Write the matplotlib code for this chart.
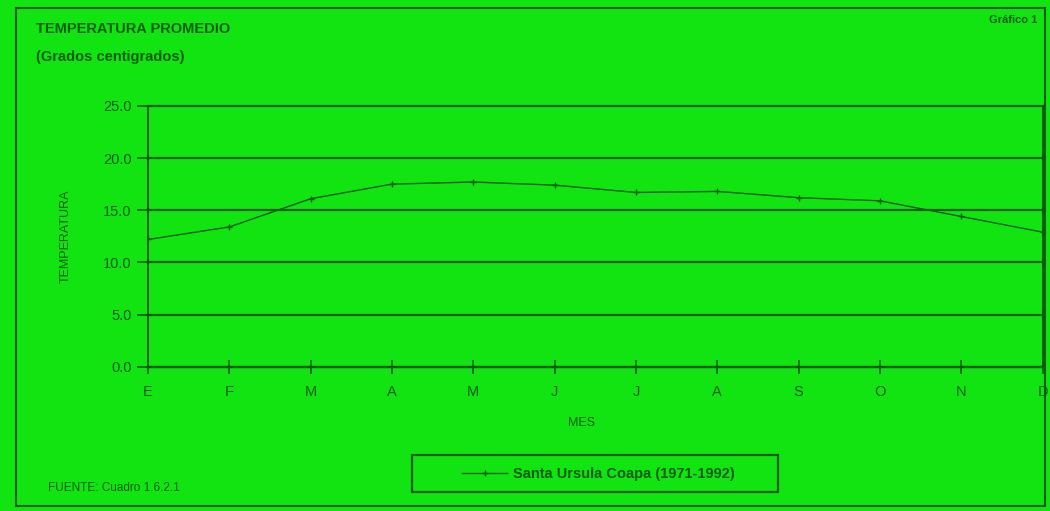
import numpy as np
import matplotlib.pyplot as plt
from matplotlib.patches import Rectangle

# Datos
meses = ["E", "F", "M", "A", "M", "J", "J", "A", "S", "O", "N", "D"]
temperatura = [12.2, 13.4, 16.1, 17.5, 17.7, 17.4, 16.7, 16.8, 16.2, 15.9, 14.4, 12.9]
serie = "Santa Ursula Coapa (1971-1992)"
y_ticks = [0, 5, 10, 15, 20, 25]

bg = "#12e412"
ink = "#0b5c0b"

plt.rcParams["font.family"] = ["Liberation Sans", "DejaVu Sans"]

fig = plt.figure(figsize=(10.5, 5.11), dpi=100)
fig.patch.set_facecolor(bg)

ax = fig.add_axes([0.141, 0.282, 0.852, 0.511])
ax.set_facecolor(bg)

x = np.arange(len(meses))
line, = ax.plot(x, temperatura, color=ink, lw=1.0, marker="+", ms=5, mew=1.0)

ax.set_xlim(0, len(meses) - 1)
ax.set_ylim(0, 25)
ax.set_yticks(y_ticks)
ax.set_yticklabels([f"{v:.1f}" for v in y_ticks], fontsize=10.5, color=ink)
ax.set_xticks(x)
ax.set_xticklabels(meses, fontsize=10.5, color=ink)
ax.tick_params(axis="y", direction="out", length=8, width=1.2, color=ink, pad=4)
ax.tick_params(axis="x", direction="inout", length=10, width=1.2, color=ink, pad=8)

for v in y_ticks:
    ax.axhline(v, color=ink, lw=1.6, zorder=1, clip_on=False)

for side in ["left", "right"]:
    ax.spines[side].set_color(ink)
    ax.spines[side].set_linewidth(1.4)
ax.spines["top"].set_visible(False)
ax.spines["bottom"].set_color(ink)
ax.spines["bottom"].set_linewidth(1.6)

ax.set_ylabel("TEMPERATURA", fontsize=9, color=ink, labelpad=22)
ax.set_xlabel("MES", fontsize=9, color=ink)
ax.xaxis.set_label_coords(0.485, -0.19)

fig.text(0.034, 0.935, "TEMPERATURA PROMEDIO", fontsize=10.5, fontweight="bold", color=ink)
fig.text(0.034, 0.88, "(Grados centigrados)", fontsize=10.5, fontweight="bold", color=ink)
fig.text(0.988, 0.955, "Gráfico 1", fontsize=8, fontweight="bold", color=ink, ha="right")
fig.text(0.046, 0.04, "FUENTE: Cuadro 1.6.2.1", fontsize=8.5, color=ink)

# leyenda sin marco; el recuadro va aparte porque es mas ancho que el texto
leg = fig.legend([line], [serie], loc="center", bbox_to_anchor=(0.570, 0.073),
                 fontsize=10.5, frameon=False, handlelength=3.1,
                 handletextpad=0.4, borderpad=0.3)
for t in leg.get_texts():
    t.set_color(ink)
    t.set_fontweight("bold")
fig.patches.append(Rectangle((0.392, 0.037), 0.349, 0.0724, transform=fig.transFigure,
                             fill=False, edgecolor=ink, lw=1.6))

fig.patches.append(Rectangle((0.015, 0.01), 0.98, 0.975, transform=fig.transFigure,
                             fill=False, edgecolor=ink, lw=1.5))

fig.savefig("out.png", dpi=100, facecolor=bg)
